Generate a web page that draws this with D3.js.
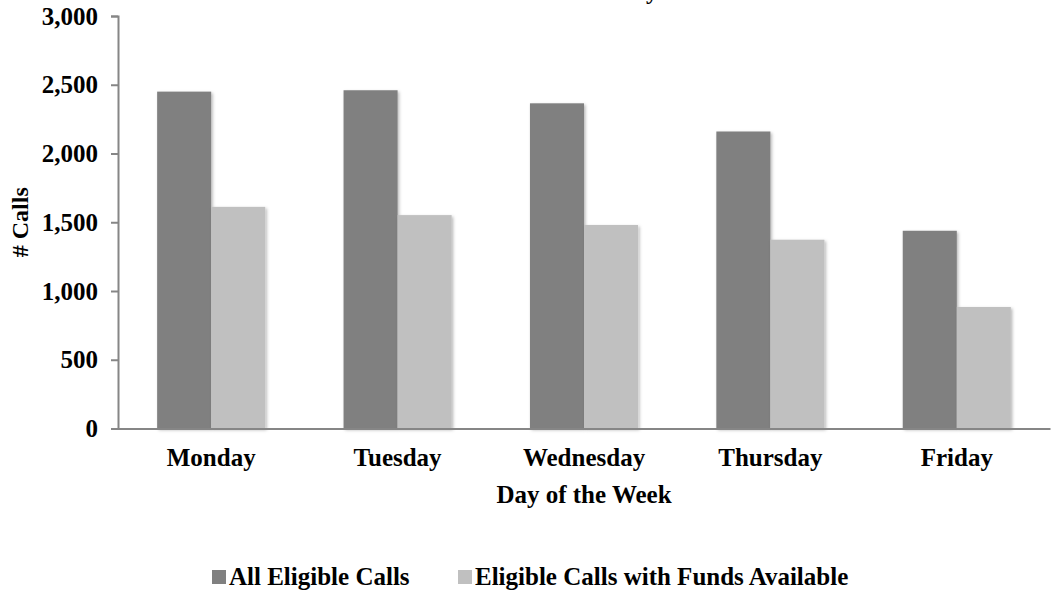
<!DOCTYPE html>
<html>
<head>
<meta charset="utf-8">
<script src="https://cdn.jsdelivr.net/npm/d3@7"></script>
<style>
  html, body { margin: 0; padding: 0; background: #fff; }
  svg { display: block; }
  text { font-family: "Liberation Serif", "Times New Roman", serif; font-weight: bold; fill: #000; }
</style>
</head>
<body>
<svg id="chart" width="1052" height="593"></svg>
<script>
const categories = ["Monday", "Tuesday", "Wednesday", "Thursday", "Friday"];
const seriesNames = ["All Eligible Calls", "Eligible Calls with Funds Available"];
const allEligible = [2450, 2460, 2365, 2160, 1438];
const withFunds = [1612, 1552, 1480, 1373, 884];
const yTicks = [0, 500, 1000, 1500, 2000, 2500, 3000];
const seriesColors = ["#808080", "#c0c0c0"];
const titleText = "Calls on Each Weekday";
const xTitle = "Day of the Week";
const yTitle = "# Calls";

const svg = d3.select("#chart");
const plot = { left: 118, right: 1050, top: 16, bottom: 428.5 };

const defs = svg.append("defs");
const f = defs.append("filter").attr("id", "shadow")
  .attr("x", "-20%").attr("y", "-5%").attr("width", "140%").attr("height", "110%");
f.append("feDropShadow").attr("dx", 1.5).attr("dy", 1.5).attr("stdDeviation", 1.5)
  .attr("flood-color", "#000").attr("flood-opacity", 0.28);

const x0 = d3.scaleBand().domain(categories).range([plot.left, plot.right]).paddingInner(0.42).paddingOuter(0.21);
const x1 = d3.scaleBand().domain(seriesNames).range([0, x0.bandwidth()]);
const y = d3.scaleLinear().domain([0, 3000]).range([plot.bottom, plot.top]);

const data = categories.map((c, i) => ({ cat: c, vals: [allEligible[i], withFunds[i]] }));

// title (clipped at top edge as in the reference)
svg.append("text").attr("x", 658).attr("y", -1).attr("text-anchor", "end")
  .attr("font-size", 24).text(titleText);

// bars
const g = svg.append("g");
data.forEach(d => {
  d.vals.forEach((v, j) => {
    g.append("rect")
      .attr("x", x0(d.cat) + x1(seriesNames[j]))
      .attr("y", y(v))
      .attr("width", x1.bandwidth())
      .attr("height", y(0) - y(v))
      .attr("fill", seriesColors[j])
      .attr("filter", "url(#shadow)");
  });
});

// y axis
const yAxis = d3.axisLeft(y).tickValues(yTicks).tickFormat(d3.format(",")).tickSize(7).tickPadding(13);
const ya = svg.append("g").attr("transform", `translate(${plot.left},0)`).call(yAxis);
ya.select(".domain").attr("stroke", "#868686").attr("stroke-width", 2);
ya.selectAll(".tick line").attr("stroke", "#868686").attr("stroke-width", 2);
ya.selectAll(".tick text").attr("font-size", 25).attr("font-family", "Liberation Serif").attr("font-weight", "bold").attr("fill", "#000");

// x axis
const xAxis = d3.axisBottom(x0).tickSize(0).tickPadding(20);
const xa = svg.append("g").attr("transform", `translate(0,${plot.bottom})`).call(xAxis);
xa.select(".domain").attr("stroke", "#868686").attr("stroke-width", 2);
xa.selectAll(".tick text").attr("font-size", 25).attr("font-family", "Liberation Serif").attr("font-weight", "bold").attr("fill", "#000");

// axis titles
svg.append("text").attr("x", (plot.left + plot.right) / 2).attr("y", 503)
  .attr("text-anchor", "middle").attr("font-size", 25).text(xTitle);
svg.append("text").attr("transform", `translate(28,${(plot.top + plot.bottom) / 2}) rotate(-90)`)
  .attr("text-anchor", "middle").attr("font-size", 24).text(yTitle);

// legend
const legendItems = [{ x: 212, tx: 229 }, { x: 458, tx: 475 }];
legendItems.forEach((l, i) => {
  svg.append("rect").attr("x", l.x).attr("y", 570).attr("width", 14).attr("height", 14).attr("fill", seriesColors[i]);
  svg.append("text").attr("x", l.tx).attr("y", 585).attr("font-size", 25).text(seriesNames[i]);
});
</script>
</body>
</html>
